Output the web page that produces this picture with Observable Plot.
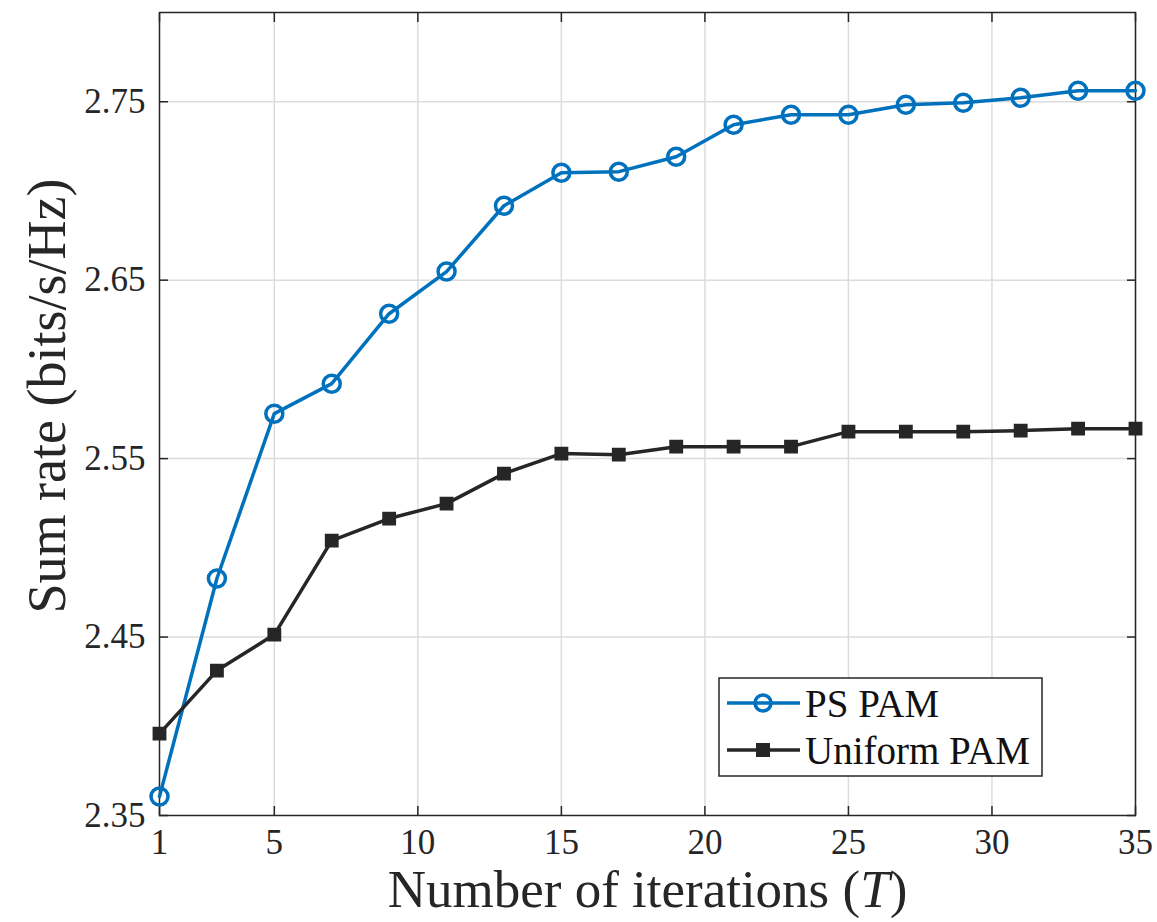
<!DOCTYPE html>
<html><head><meta charset="utf-8">
<script src="https://cdn.jsdelivr.net/npm/d3@7"></script>
<script src="https://cdn.jsdelivr.net/npm/@observablehq/plot@0.6"></script>
<style>body{margin:0;background:#fff} svg text{font-family:"Liberation Serif","Times New Roman",Times,serif !important;}</style>
</head><body><div id="chart"></div>
<script>
const iterations = [1,3,5,7,9,11,13,15,17,19,21,23,25,27,29,31,33,35];
const psPam = [2.3606,2.4828,2.5752,2.5920,2.6312,2.6548,2.6917,2.7102,2.7108,2.7192,2.7371,2.7427,2.7427,2.7483,2.7494,2.7522,2.7562,2.7562];
const uniformPam = [2.3959,2.4312,2.4514,2.5040,2.5164,2.5248,2.5416,2.5528,2.5522,2.5567,2.5567,2.5567,2.5651,2.5651,2.5651,2.5657,2.5668,2.5668];
const seriesNames = ["PS PAM","Uniform PAM"];
const xTicks = [1,5,10,15,20,25,30,35];
const yTicks = [2.35,2.45,2.55,2.65,2.75];
const xLabelMain = "Number of iterations (";
const xLabelVar = "T";
const xLabelEnd = ")";
const yLabel = "Sum rate (bits/s/Hz)";

const blue = "#0072BD", dark = "#262626", gridColor = "#dcdcdc";
const rows = iterations.flatMap((t, i) => [
  {t, v: psPam[i], s: seriesNames[0]},
  {t, v: uniformPam[i], s: seriesNames[1]}
]);
const W = 1157, H = 922, mL = 159, mR = 22, mT = 12, mB = 107;
const font = '"Liberation Serif", "Times New Roman", Times, serif';

const plot = Plot.plot({
  width: W, height: H, marginLeft: mL, marginRight: mR, marginTop: mT, marginBottom: mB,
  style: {fontSize: "35px", color: dark, background: "#fff", overflow: "visible"},
  x: {domain: [1, 35]},
  y: {domain: [2.35, 2.80]},
  color: {domain: seriesNames, range: [blue, dark]},
  marks: [
    Plot.gridX(xTicks.slice(1), {stroke: gridColor, strokeOpacity: 1, strokeWidth: 1.5}),
    Plot.gridY(yTicks.slice(1), {stroke: gridColor, strokeOpacity: 1, strokeWidth: 1.5}),
    Plot.axisX(xTicks, {anchor: "bottom", tickSize: 0, tickPadding: 14, label: null, tickFormat: d => String(d)}),
    Plot.axisX(xTicks, {anchor: "bottom", tickSize: -9, tickFormat: () => "", label: null, strokeWidth: 1.5}),
    Plot.axisX(xTicks, {anchor: "top", tickSize: -9, tickFormat: () => "", label: null, strokeWidth: 1.5}),
    Plot.axisY(yTicks, {anchor: "left", tickSize: 0, tickPadding: 14, label: null, tickFormat: d3.format(".2f")}),
    Plot.axisY(yTicks, {anchor: "left", tickSize: -9, tickFormat: () => "", label: null, strokeWidth: 1.5}),
    Plot.axisY(yTicks, {anchor: "right", tickSize: -9, tickFormat: () => "", label: null, strokeWidth: 1.5}),
    Plot.frame({stroke: dark, strokeWidth: 1.5}),
    Plot.line(rows, {x: "t", y: "v", z: "s", stroke: "s", strokeWidth: 3.5}),
    Plot.dot(rows.filter(d => d.s === seriesNames[0]), {x: "t", y: "v", r: 8.5, stroke: blue, strokeWidth: 3.5, fill: "none"}),
    Plot.dot(rows.filter(d => d.s === seriesNames[1]), {x: "t", y: "v", r: 6.4, symbol: "square", fill: dark, stroke: dark, strokeWidth: 2.5}),
    Plot.text([xLabelMain + xLabelVar + xLabelEnd], {text: d => d, frameAnchor: "bottom", textAnchor: "middle", lineAnchor: "bottom", dy: 91, fontSize: 53, fill: dark}),
    Plot.text([yLabel], {text: d => d, frameAnchor: "left", textAnchor: "middle", rotate: -90, dx: -112, dy: -18, fontSize: 54, fill: dark})
  ]
});

const svg = d3.select(plot).attr("font-family", font);

// italic T in the x label
svg.selectAll("text").each(function() {
  if (this.textContent === xLabelMain + xLabelVar + xLabelEnd) {
    const t = d3.select(this);
    t.text(null);
    t.append("tspan").text(xLabelMain);
    t.append("tspan").attr("font-style", "italic").text(xLabelVar);
    t.append("tspan").text(xLabelEnd);
  }
});

// legend
const boxW = 323, boxH = 98;
const boxRight = W - mR - 93, boxBottom = H - mB - 39;
const bx = boxRight - boxW, by = boxBottom - boxH;
const lg = svg.append("g").attr("font-family", font).attr("font-size", 39).attr("text-anchor", "start");
lg.append("rect").attr("x", bx).attr("y", by).attr("width", boxW).attr("height", boxH)
  .attr("fill", "#fff").attr("stroke", dark).attr("stroke-width", 1.5);
const entries = [
  {name: seriesNames[0], color: blue, sym: "circle"},
  {name: seriesNames[1], color: dark, sym: "square"}
];
entries.forEach((e, i) => {
  const cy = by + 25 + i * 47;
  lg.append("line").attr("x1", bx + 8).attr("x2", bx + 81).attr("y1", cy).attr("y2", cy)
    .attr("stroke", e.color).attr("stroke-width", 3.5);
  if (e.sym === "circle") {
    lg.append("circle").attr("cx", bx + 44).attr("cy", cy).attr("r", 8)
      .attr("fill", "none").attr("stroke", e.color).attr("stroke-width", 3.5);
  } else {
    lg.append("rect").attr("x", bx + 44 - 6).attr("y", cy - 6).attr("width", 12).attr("height", 12)
      .attr("fill", e.color).attr("stroke", e.color).attr("stroke-width", 2);
  }
  lg.append("text").attr("x", bx + 86).attr("y", cy).attr("dy", "0.35em").attr("fill", "#111").text(e.name);
});

document.getElementById("chart").appendChild(plot);
</script>
</body></html>
